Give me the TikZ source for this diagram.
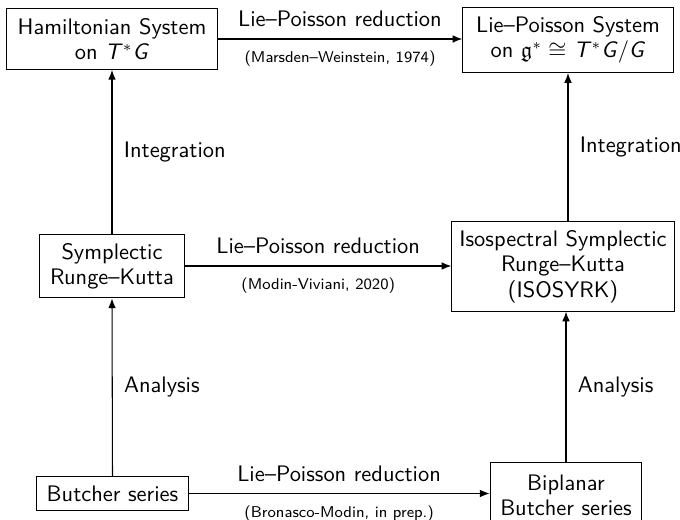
\documentclass[tikz,border=0pt]{standalone}
\usepackage{amssymb}
\usetikzlibrary{positioning,arrows.meta,calc}

\begin{document}
\begin{tikzpicture}[x=0.0166cm, y=-0.0166cm, line width=0.5pt,
    every node/.style={font=\sffamily\fontsize{10.6pt}{12pt}\selectfont, align=center},
    sysbox/.style={draw, inner sep=2pt},
    citelabel/.style={font=\sffamily\fontsize{7.4pt}{9pt}\selectfont}]
  \useasboundingbox (0,0) rectangle (680,520);
  % the six systems / methods
  \node[sysbox, minimum width=3.49cm, minimum height=1.01cm] (ham) at (112,39)
    {Hamiltonian System\\on \textit{T}$^*$\textit{G}};
  \node[sysbox, minimum width=3.49cm, minimum height=1.08cm] (lps) at (568,40)
    {Lie--Poisson System\\on $\mathfrak{g}^*\cong$ \textit{T}$^*$\textit{G}/\textit{G}};
  \node[sysbox, minimum width=2.41cm, minimum height=1.06cm] (srk) at (112,266)
    {Symplectic\\Runge--Kutta};
  \node[sysbox, minimum width=3.69cm, minimum height=1.48cm] (iso) at (563,266.5)
    {Isospectral Symplectic\\Runge--Kutta\\(ISOSYRK)};
  \node[sysbox, minimum width=2.51cm, minimum height=0.55cm] (bs) at (112.5,493.5)
    {Butcher series};
  \node[sysbox, minimum width=2.52cm, minimum height=1.08cm] (bb) at (566,495.5)
    {Biplanar\\Butcher series};
  % reductions
  \draw[-{Latex[length=4.6pt, width=3.6pt]}] (ham.east) -- (ham.east -| lps.west)
    node[midway, above=2pt] {Lie--Poisson reduction}
    node[midway, below=2pt, citelabel] {(Marsden--Weinstein, 1974)};
  \draw[-{Latex[length=4.6pt, width=3.6pt]}] (srk.east) -- (srk.east -| iso.west)
    node[midway, above=2pt] {Lie--Poisson reduction}
    node[midway, below=2pt, citelabel] {(Modin-Viviani, 2020)};
  \draw[-{Latex[length=4.6pt, width=3.6pt]}] (bs.east) -- (bs.east -| bb.west)
    node[midway, above=2pt] {Lie--Poisson reduction}
    node[midway, below=2pt, citelabel] {(Bronasco-Modin, in prep.)};
  % integration and analysis
  \draw[-{Latex[length=4.6pt, width=3.6pt]}] (srk.north) -- (ham.south)
    node[midway, right=2pt] {Integration};
  \draw[-{Latex[length=4.6pt, width=3.6pt]}] (lps.south |- iso.north) -- (lps.south)
    node[midway, right=2pt] {Integration};
  \draw[-{Latex[length=4.6pt, width=3.6pt]}] (bs.north) -- (srk.south)
    node[midway, right=2pt] {Analysis};
  \draw[-{Latex[length=4.6pt, width=3.6pt]}] (bb.north) -- (bb.north |- iso.south)
    node[midway, right=2pt] {Analysis};
\end{tikzpicture}
\end{document}
